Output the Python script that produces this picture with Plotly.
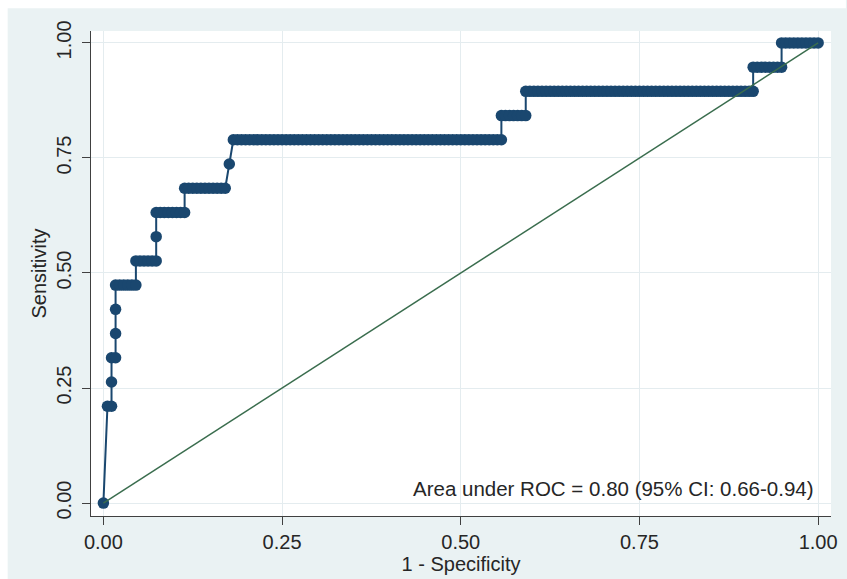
import plotly.graph_objects as go

# ---- data ----
N_POS = 19            # positives (sensitivity steps of 1/19)
N_NEG = 176           # negatives (1 - specificity steps of 1/176)
# each sensitivity level (true positives) and the range of false-positive counts it spans
tp_level = [4, 5, 6, 7, 8, 9, 10, 11, 12, 13, 14, 15, 16, 17, 18, 19]
fp_start = [1, 2, 2, 3, 3, 3, 8, 13, 13, 20, 31, 32, 98, 104, 160, 167]
fp_end   = [2, 2, 3, 3, 3, 8, 13, 13, 20, 30, 31, 98, 104, 160, 167, 176]

ticks = [0, 0.25, 0.5, 0.75, 1.0]
tick_text = ["0.00", "0.25", "0.50", "0.75", "1.00"]
auc_text = "Area under ROC = 0.80 (95% CI: 0.66-0.94)"

# ROC points: origin, then every operating point in each run
fpr = [0.0]
tpr = [0.0]
for k, s, e in zip(tp_level, fp_start, fp_end):
    for fp in range(s, e + 1):
        fpr.append(fp / N_NEG)
        tpr.append(k / N_POS)

NAVY = "#1A476F"
GREEN = "#3A6D4E"
BG = "#EAF2F3"
TXT = "#262626"
AX = "#404040"
FONT = "Liberation Sans, Arial, sans-serif"

fig = go.Figure()
fig.add_trace(go.Scatter(
    x=fpr, y=tpr, mode="lines+markers",
    line=dict(color=NAVY, width=2),
    marker=dict(color=NAVY, size=11.5, line=dict(width=0)),
    showlegend=False, hoverinfo="skip"))
fig.add_trace(go.Scatter(
    x=[0, 1], y=[0, 1], mode="lines",
    line=dict(color=GREEN, width=1.5),
    showlegend=False, hoverinfo="skip"))

fig.add_annotation(x=0.9975, y=0.031, xref="x", yref="y", text=auc_text,
                   showarrow=False, xanchor="right", yanchor="middle",
                   font=dict(size=20.5, color=TXT, family=FONT))

# white outer margin at top and left of the graph region
W, H = 847, 579
L, R, T, B = 91, 10, 31, 60
pw, ph = W - L - R, H - T - B
def px_x(p):
    return (p - L) / pw
def px_y(p):
    return (H - B - p) / ph
fig.add_shape(type="rect", xref="paper", yref="paper", layer="below",
              x0=px_x(-5), x1=px_x(W + 5), y0=px_y(8), y1=px_y(-5),
              fillcolor="white", line=dict(width=0))
fig.add_shape(type="rect", xref="paper", yref="paper", layer="below",
              x0=px_x(-5), x1=px_x(7), y0=px_y(H + 5), y1=px_y(-5),
              fillcolor="white", line=dict(width=0))

axis_common = dict(
    tickvals=ticks, ticktext=tick_text, showgrid=True, gridcolor="#E4ECEF",
    gridwidth=1, zeroline=False, showline=True, linecolor=AX, linewidth=1.2,
    ticks="outside", ticklen=8, tickcolor=AX, tickwidth=1.2,
    tickfont=dict(size=20, color=TXT, family=FONT),
)
fig.update_xaxes(range=[-0.01735, 1.0180],
                 title=dict(text="1 - Specificity", font=dict(size=20, color=TXT, family=FONT), standoff=2),
                 **axis_common)
fig.update_yaxes(range=[-0.0281, 1.0259], tickangle=-90, ticklabelstandoff=3,
                 title=dict(text="Sensitivity", font=dict(size=20, color=TXT, family=FONT), standoff=0),
                 **axis_common)

fig.update_layout(width=W, height=H, autosize=False,
                  margin=dict(l=L, r=R, t=T, b=B, pad=0),
                  paper_bgcolor=BG, plot_bgcolor="white",
                  font=dict(family=FONT, color=TXT))

fig.write_html("out.html")
